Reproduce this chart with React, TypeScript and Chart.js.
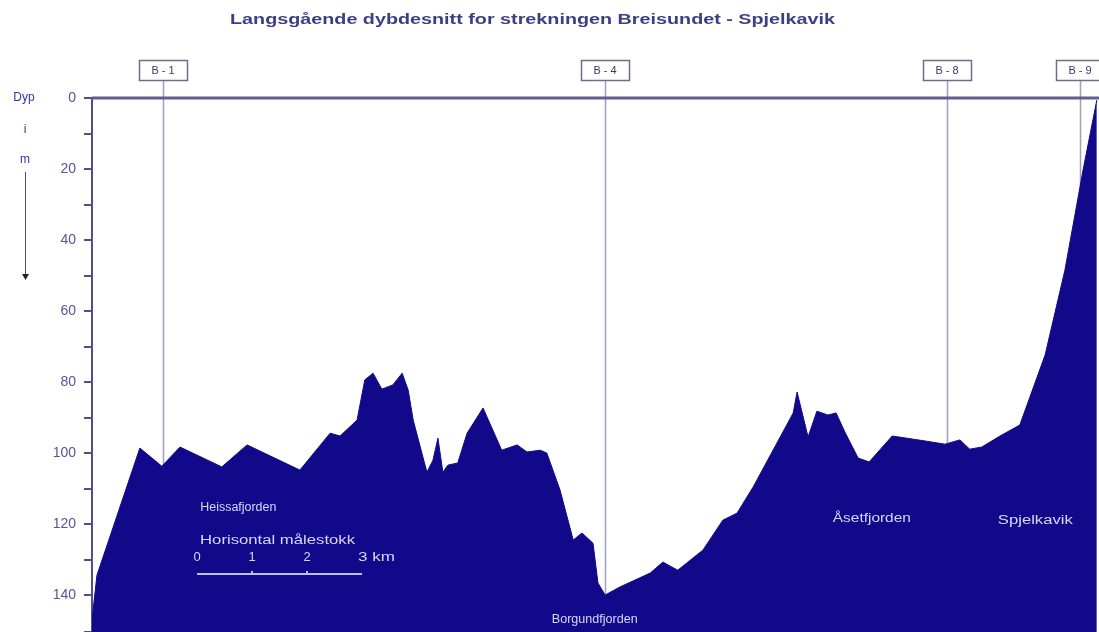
import React, { useEffect, useRef } from "react";
import { Chart, registerables } from "chart.js";

Chart.register(...registerables);

// Profile: distance along route (km) and depth (m)
const distanceKm: number[] = [
  0, 0.09, 0.87, 1.27, 1.6, 2.36, 2.82, 3.78, 4.33, 4.51, 4.82, 4.96, 5.11, 5.27, 5.47, 5.64, 5.75, 5.84,
  6.09, 6.2, 6.29, 6.38, 6.47, 6.65, 6.82, 7.11, 7.45, 7.73, 7.91, 8.15, 8.27, 8.51, 8.75, 8.91, 9.11, 9.2,
  9.33, 9.6, 10.15, 10.38, 10.65, 11.11, 11.47, 11.73, 12.02, 12.75, 12.82, 13.02, 13.18, 13.38, 13.53,
  13.69, 13.93, 14.13, 14.55, 15.15, 15.51, 15.78, 15.96, 16.18, 16.51, 16.87, 17.33, 17.69, 18.02, 18.27,
];
const depthM: number[] = [
  147, 134.4, 98.6, 103.7, 98.3, 103.9, 97.7, 104.8, 94.4, 95.2, 90.7, 79.4, 77.5, 82.0, 80.8, 77.5, 82.3, 90.7,
  105.4, 102.0, 95.8, 105.4, 103.4, 102.8, 94.4, 87.3, 99.2, 97.7, 99.7, 99.2, 100.0, 110.4, 124.5, 122.5, 125.4, 136.6,
  140.0, 137.7, 133.8, 130.7, 133.0, 127.3, 118.9, 116.9, 109.6, 88.7, 82.8, 95.5, 88.2, 89.3, 88.7,
  94.1, 101.4, 102.5, 95.2, 96.6, 97.5, 96.3, 98.9, 98.3, 95.2, 92.1, 72.4, 48.5, 20.3, 0.6,
];

// Station markers
const markerNames: string[] = ["B - 1", "B - 4", "B - 8", "B - 9"];
const markerKm: number[] = [1.29, 9.33, 15.55, 17.96];

// Place names and positions (km, depth)
const placeNames: string[] = ["Heissafjorden", "Borgundfjorden", "Åsetfjorden", "Spjelkavik"];
const placeKm: number[] = [1.97, 8.36, 13.47, 16.47];
const placeDepth: number[] = [115.5, 147.0, 118.5, 119.0];

// Horizontal scale bar
const scaleBarStartKm = 1.91;
const scaleBarLabels: string[] = ["0", "1", "2", "3 km"];

// Y axis
const yTickStep = 10;
const yLabelStep = 20;
const yMin = 0;
const yMax = 150.4;
const xMax = 18.31;

const titleText = "Langsgående dybdesnitt for strekningen Breisundet - Spjelkavik";

function fitText(ctx: CanvasRenderingContext2D, text: string, x: number, y: number, width: number) {
  const w = ctx.measureText(text).width;
  ctx.save();
  ctx.translate(x, y);
  ctx.scale(width / w, 1);
  ctx.textAlign = "left";
  ctx.fillText(text, 0, 0);
  ctx.restore();
}

const decorPlugin = {
  id: "decor",
  beforeDatasetsDraw(chart: any) {
    const ctx = chart.ctx as CanvasRenderingContext2D;
    const xs = chart.scales.x;
    const area = chart.chartArea;
    ctx.save();
    ctx.strokeStyle = "rgb(160,160,190)";
    ctx.lineWidth = 1.5;
    markerKm.forEach((km) => {
      const px = Math.round(xs.getPixelForValue(km)) + 0.5;
      ctx.beginPath();
      ctx.moveTo(px, 80);
      ctx.lineTo(px, area.bottom);
      ctx.stroke();
    });
    ctx.restore();
  },
  afterDraw(chart: any) {
    const ctx = chart.ctx as CanvasRenderingContext2D;
    const xs = chart.scales.x;
    const ys = chart.scales.y;
    const area = chart.chartArea;
    ctx.save();

    // top axis line
    ctx.strokeStyle = "rgb(95,95,145)";
    ctx.lineWidth = 3;
    ctx.beginPath();
    ctx.moveTo(area.left, area.top);
    ctx.lineTo(area.right, area.top);
    ctx.stroke();

    // title
    ctx.fillStyle = "rgb(62,62,135)";
    ctx.font = "bold 14px 'Liberation Sans', Arial, sans-serif";
    ctx.textBaseline = "alphabetic";
    fitText(ctx, titleText, 230, 24, 605);

    // marker boxes
    markerKm.forEach((km, i) => {
      const cx = Math.round(xs.getPixelForValue(km));
      const bw = 48;
      const bx = cx - bw / 2;
      ctx.fillStyle = "#ffffff";
      ctx.fillRect(bx, 60, bw, 20);
      ctx.strokeStyle = "rgb(110,110,140)";
      ctx.lineWidth = 1.5;
      ctx.strokeRect(bx + 0.5, 60.5, bw, 20);
      ctx.fillStyle = "rgb(55,55,110)";
      ctx.font = "11px 'Liberation Sans', Arial, sans-serif";
      ctx.textAlign = "center";
      ctx.textBaseline = "middle";
      ctx.fillText(markerNames[i], cx, 71);
    });

    // Dyp i m
    ctx.fillStyle = "rgb(50,50,165)";
    ctx.font = "12px 'Liberation Sans', Arial, sans-serif";
    ctx.textAlign = "center";
    ctx.textBaseline = "middle";
    ctx.fillText("Dyp", 24, 98);
    ctx.fillText("i", 25, 130);
    ctx.fillText("m", 25, 160);
    ctx.strokeStyle = "rgb(80,80,110)";
    ctx.lineWidth = 1;
    ctx.beginPath();
    ctx.moveTo(25.5, 172);
    ctx.lineTo(25.5, 276);
    ctx.stroke();
    ctx.fillStyle = "rgb(30,30,60)";
    ctx.beginPath();
    ctx.moveTo(22, 274);
    ctx.lineTo(29, 274);
    ctx.lineTo(25.5, 280);
    ctx.closePath();
    ctx.fill();

    // place names
    ctx.fillStyle = "rgb(215,215,255)";
    ctx.font = "12px 'Liberation Sans', Arial, sans-serif";
    ctx.textBaseline = "middle";
    const placeWidths = [76, 86, 78, 75];
    placeNames.forEach((name, i) => {
      const px = xs.getPixelForValue(placeKm[i]);
      const py = ys.getPixelForValue(placeDepth[i]);
      fitText(ctx, name, px, py, placeWidths[i]);
    });

    // horizontal scale
    const sx0 = xs.getPixelForValue(scaleBarStartKm);
    const kmPx = xs.getPixelForValue(scaleBarStartKm + 1) - sx0;
    ctx.fillStyle = "rgb(215,215,255)";
    fitText(ctx, "Horisontal målestokk", sx0 + 3, ys.getPixelForValue(124.8), 155);
    ctx.font = "13px 'Liberation Sans', Arial, sans-serif";
    scaleBarLabels.forEach((lab, i) => {
      const px = sx0 + i * kmPx;
      if (i < scaleBarLabels.length - 1) {
        ctx.textAlign = "center";
        ctx.fillText(lab, px, ys.getPixelForValue(129.3));
      } else {
        fitText(ctx, lab, px - 4, ys.getPixelForValue(129.3), 37);
      }
    });
    ctx.strokeStyle = "rgb(190,190,245)";
    ctx.lineWidth = 2;
    const by = Math.round(ys.getPixelForValue(134.2));
    ctx.beginPath();
    ctx.moveTo(sx0, by);
    ctx.lineTo(sx0 + 3 * kmPx, by);
    ctx.stroke();
    for (let i = 1; i < 3; i++) {
      ctx.beginPath();
      ctx.moveTo(sx0 + i * kmPx, by);
      ctx.lineTo(sx0 + i * kmPx, by - 3);
      ctx.stroke();
    }

    ctx.restore();
  },
};

export default function App() {
  const ref = useRef<HTMLCanvasElement | null>(null);
  useEffect(() => {
    if (!ref.current) return;
    const chart = new Chart(ref.current, {
      type: "line",
      data: {
        datasets: [
          {
            data: distanceKm.map((x, i) => ({ x, y: depthM[i] })),
            borderColor: "#12098a",
            backgroundColor: "#12098a",
            borderWidth: 1,
            pointRadius: 0,
            tension: 0,
            fill: { value: yMax },
          },
        ],
      },
      options: {
        animation: false,
        responsive: true,
        maintainAspectRatio: false,
        layout: { padding: { top: 98, left: 0, right: 0, bottom: 0 } },
        plugins: { legend: { display: false }, tooltip: { enabled: false }, title: { display: false } },
        scales: {
          x: { type: "linear", min: 0, max: xMax, display: false },
          y: {
            type: "linear",
            reverse: true,
            min: yMin,
            max: yMax,
            afterFit: (scale: any) => {
              scale.width = 92;
              scale.paddingTop = 0;
              scale.paddingBottom = 0;
            },
            border: { display: true, color: "rgb(80,80,140)", width: 2 },
            grid: { drawOnChartArea: false, tickLength: 8, color: "rgb(80,80,140)", lineWidth: 2 },
            ticks: {
              stepSize: yTickStep,
              autoSkip: false,
              padding: 8,
              color: "rgb(85,85,150)",
              font: { size: 14, family: "'Liberation Sans', Arial, sans-serif" },
              callback: (v: any) => (Number(v) % yLabelStep === 0 ? String(v) : ""),
            },
          },
        },
      },
      plugins: [decorPlugin],
    });
    return () => chart.destroy();
  }, []);
  return (
    <div style={{ position: "absolute", left: 0, top: 0, width: 1099, height: 632, background: "#fff" }}>
      <canvas ref={ref} />
    </div>
  );
}
